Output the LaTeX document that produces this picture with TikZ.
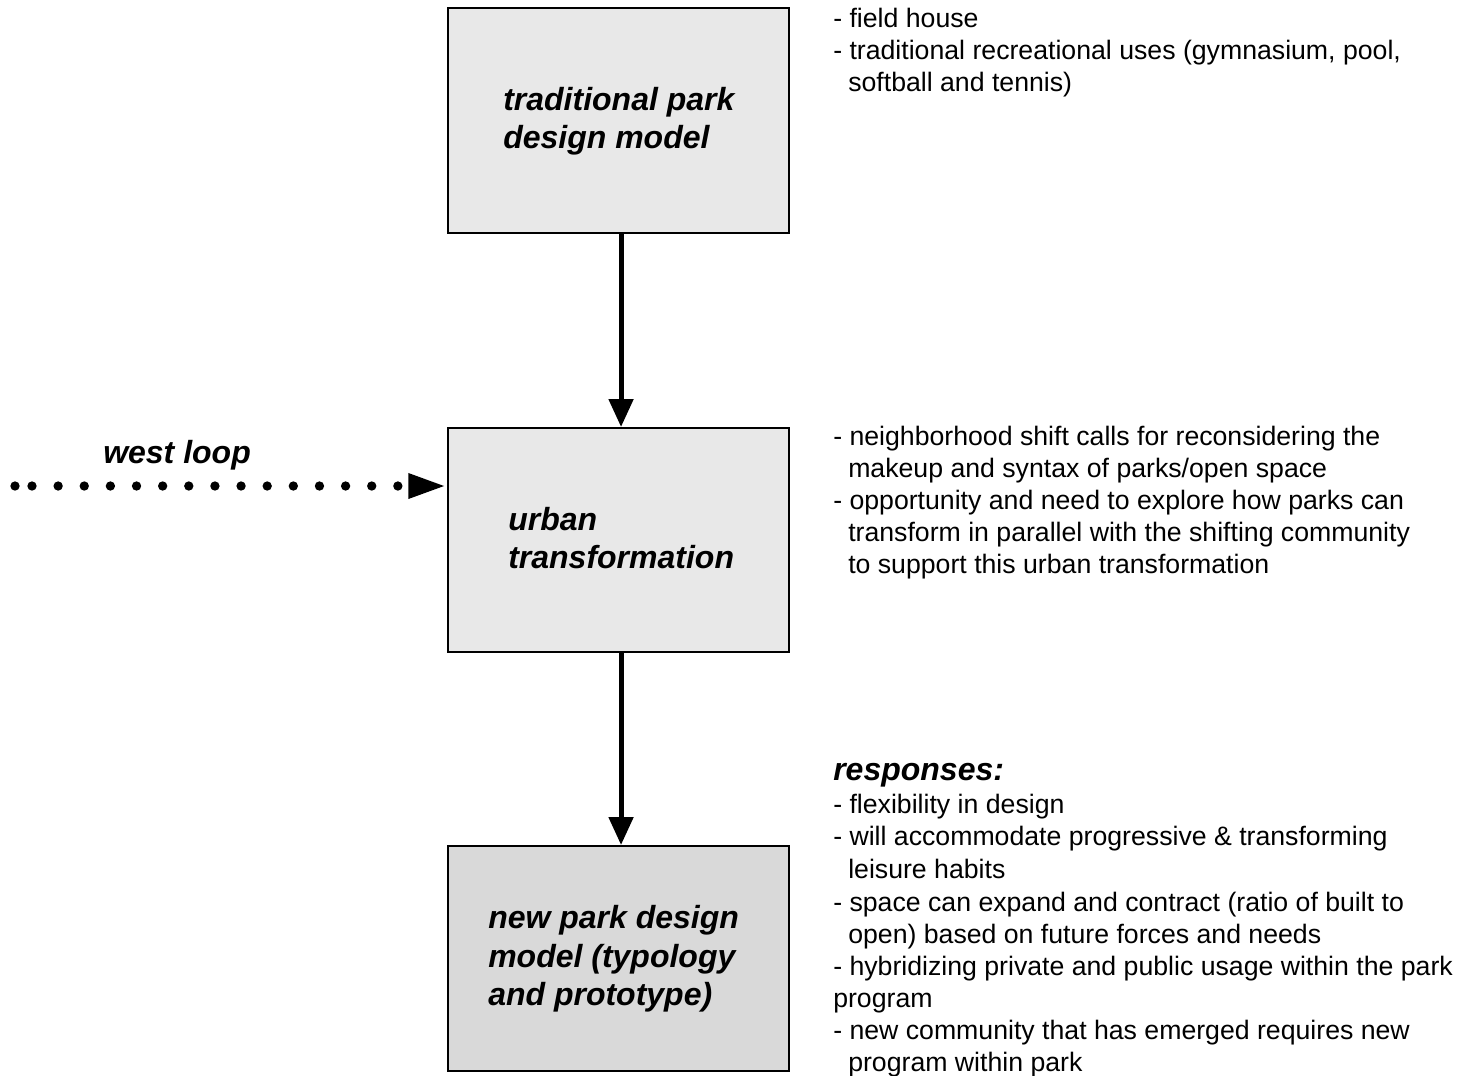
\documentclass[tikz,border=0pt]{standalone}
\usepackage{fontspec}
\setmainfont{Liberation Sans}
\usetikzlibrary{arrows.meta}
\tikzset{
  box/.style={draw=black, line width=1.5pt, fill=black!9, minimum width=255.75pt, inner sep=0pt},
  boxtxt/.style={anchor=base west, inner sep=0pt, font=\fontsize{24pt}{28.5pt}\selectfont\bfseries\itshape},
  bodytxt/.style={anchor=base west, inner sep=0pt, font=\fontsize{20pt}{24pt}\selectfont},
  flow/.style={line width=3.75pt, -{Triangle[length=21pt,width=18pt]}},
  dotflow/.style={line width=7pt, line cap=round, dash pattern=on 0pt off 19.6pt, -{Triangle[length=29pt,width=17pt]}}
}
\begin{document}
\begin{tikzpicture}[x=0.75pt,y=-0.75pt]
\useasboundingbox (0,0) rectangle (1459,1075);
% boxes
\node[box, minimum height=168.75pt] (b1) at (618.5,120.5) {};
\node[box, minimum height=168pt] (b2) at (618.5,540) {};
\node[box, minimum height=168.75pt, fill=black!15] (b3) at (618.5,958.5) {};
% box texts
\node[boxtxt] (t1a) at (503,110) {traditional park};
\node[boxtxt] (t1b) at (503,148) {design model};
\node[boxtxt] (t2a) at (508,530) {urban};
\node[boxtxt] (t2b) at (508,568) {transformation};
\node[boxtxt] (t3a) at (488,928) {new park design};
\node[boxtxt] (t3b) at (488,967) {model (typology};
\node[boxtxt] (t3c) at (488,1005) {and prototype)};
% connectors
\draw[flow] ([xshift=1.9pt]b1.south) -- ([xshift=1.9pt]b2.north);
\draw[flow] ([xshift=1.9pt]b2.south) -- ([xshift=1.9pt]b3.north);
\coordinate (wl) at (32,486);
\fill (15,486) circle (3.5pt);
\draw[dotflow] (wl) -- (b2.west |- wl);
\node[boxtxt] (wlt) at (103,463) {west loop};
% right text block 1
\node[bodytxt] (r1a) at (833,27) {- field house};
\node[bodytxt] (r1b) at (833,59) {- traditional recreational uses (gymnasium, pool,};
\node[bodytxt] (r1c) at (848,91) {softball and tennis)};
% block 2
\node[bodytxt] (r2a) at (833,445) {- neighborhood shift calls for reconsidering the};
\node[bodytxt] (r2b) at (848,477) {makeup and syntax of parks/open space};
\node[bodytxt] (r2c) at (833,509) {- opportunity and need to explore how parks can};
\node[bodytxt] (r2d) at (848,541) {transform in parallel with the shifting community};
\node[bodytxt] (r2e) at (848,573) {to support this urban transformation};
% block 3
\node[boxtxt] (r3h) at (833,780) {responses:};
\node[bodytxt] (r3a) at (833,813) {- flexibility in design};
\node[bodytxt] (r3b) at (833,845) {- will accommodate progressive \& transforming};
\node[bodytxt] (r3c) at (848,878) {leisure habits};
\node[bodytxt] (r3d) at (833,911) {- space can expand and contract (ratio of built to};
\node[bodytxt] (r3e) at (848,943) {open) based on future forces and needs};
\node[bodytxt] (r3f) at (833,975) {- hybridizing private and public usage within the park};
\node[bodytxt] (r3g) at (833,1007) {program};
\node[bodytxt] (r3h2) at (833,1039) {- new community that has emerged requires new};
\node[bodytxt] (r3i) at (848,1071) {program within park};
\end{tikzpicture}
\end{document}
